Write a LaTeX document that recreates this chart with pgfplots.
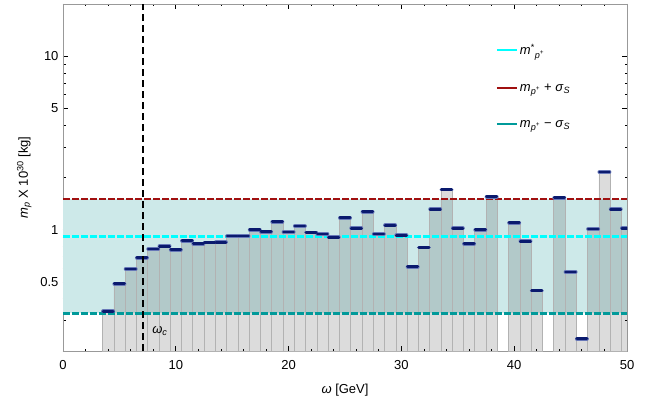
\documentclass[border=0pt]{standalone}
\usepackage{fontspec}
\setmainfont{Liberation Sans}
\usepackage{pgfplots}
\pgfplotsset{compat=1.18}
\usepackage{pgfplotstable}

\definecolor{band}{HTML}{CDE9E9}
\definecolor{navy}{HTML}{0A1A6E}
\definecolor{halo}{HTML}{6878B8}
\definecolor{redline}{HTML}{A01010}
\definecolor{tealline}{HTML}{009A9A}
\definecolor{cyanline}{HTML}{00FFFF}
\definecolor{framegray}{HTML}{999999}

% bin centre, value (x 10^30 kg)
\pgfplotstableread{
w m
4 0.339
5 0.488
6 0.594
7 0.690
8 0.775
9 0.802
10 0.767
11 0.865
12 0.831
13 0.845
14 0.848
15 0.92
16 0.92
17 1.00
18 0.974
19 1.11
20 0.97
21 1.05
22 0.965
23 0.945
24 0.905
25 1.17
26 1.02
27 1.27
28 0.945
29 1.06
30 0.93
31 0.613
32 0.79
33 1.31
34 1.705
35 1.02
36 0.831
37 1.0
38 1.55
40 1.097
41 0.857
42 0.446
44 1.53
45 0.571
46 0.235
47 1.01
48 2.15
49 1.31
50 1.02
}\masses

\begin{document}
\fontsize{13}{15}\selectfont
\begin{tikzpicture}
\begin{semilogyaxis}[
    scale only axis,
    width=564pt, height=347pt,
    xmin=0, xmax=50,
    ymin=0.2, ymax=20,
    enlargelimits=false,
    xtick={0,10,20,30,40,50},
    minor x tick num=4,
    ytick={0.5,1,5,10},
    yticklabels={0.5,1,5,10},
    minor ytick={0.2,0.3,0.4,0.6,0.7,0.8,0.9,2,3,4,6,7,8,9,20},
    tick align=inside,
    major tick length=5pt,
    minor tick length=2.5pt,
    tick style={black, line width=0.8pt},
    axis line style={framegray, line width=0.8pt},
    /pgf/number format/assume math mode=true,
    tick label style={font=\fontsize{13}{15}\selectfont},
    xticklabel style={yshift=-5pt},
    label style={font=\fontsize{13}{15}\selectfont},
    xlabel={\textit{ω} [GeV]},
    ylabel={\textit{m}\textsubscript{\textit{p}} X 10\textsuperscript{30} [kg]},
    xlabel style={yshift=-5pt},
    log origin=infty,
    legend cell align=left,
    legend style={draw=none, fill=none, at={(0.762,0.896)}, anchor=north west,
        row sep=23pt, font=\fontsize{13}{15}\selectfont},
    legend image code/.code={\draw[#1, solid, line width=2pt] (0pt,0.3pt) -- (20pt,0.3pt);},
]
% 1-sigma band
\addplot[fill=band, draw=none, forget plot] coordinates {(0,0.33) (50,0.33) (50,1.5) (0,1.5)} -- cycle;

% histogram bars
\addplot[ybar, bar width=1, fill=black!85, fill opacity=0.16, draw opacity=1,
    draw=black!30, line width=0.5pt, forget plot] table[x=w, y=m] {\masses};

% reference lines
\addplot[cyanline, dashed, dash pattern=on 7pt off 2pt, line width=2.6pt] coordinates {(0,0.915) (50,0.915)};
\addlegendentry{\textit{m}\textsuperscript{*}\textsubscript{\textit{p}\textsuperscript{+}}}
\addplot[redline, dashed, dash pattern=on 7pt off 2pt, line width=2.6pt] coordinates {(0,1.5) (50,1.5)};
\addlegendentry{\textit{m}\textsubscript{\textit{p}\textsuperscript{+}} + \textit{σ}\textsubscript{\textit{S}}}
\addplot[tealline, dashed, dash pattern=on 7pt off 2pt, line width=2.6pt] coordinates {(0,0.33) (50,0.33)};
\addlegendentry{\textit{m}\textsubscript{\textit{p}\textsuperscript{+}} − \textit{σ}\textsubscript{\textit{S}}}

% bin values
\addplot[draw=none, mark=none, forget plot,
    error bars/.cd, x dir=both, x fixed=0.45, error mark=none,
    error bar style={draw=halo, line width=3.8pt, line cap=round, solid}] table[x=w, y=m] {\masses};
\addplot[draw=none, mark=none, forget plot,
    error bars/.cd, x dir=both, x fixed=0.45, error mark=none,
    error bar style={draw=navy, line width=2.8pt, line cap=round, solid}] table[x=w, y=m] {\masses};

% critical frequency
\addplot[black, dashed, dash pattern=on 7pt off 4pt, line width=2pt, forget plot] coordinates {(7.1,0.2) (7.1,20)};
\node[anchor=west, inner sep=0pt] at (axis cs:7.9,0.262) {\textit{ω}\textsubscript{\textit{c}}};
\end{semilogyaxis}
\pgfresetboundingbox
\path ([shift={(-63pt,-57pt)}]current axis.south west) rectangle ([shift={(30pt,4pt)}]current axis.north east);
\end{tikzpicture}
\end{document}
